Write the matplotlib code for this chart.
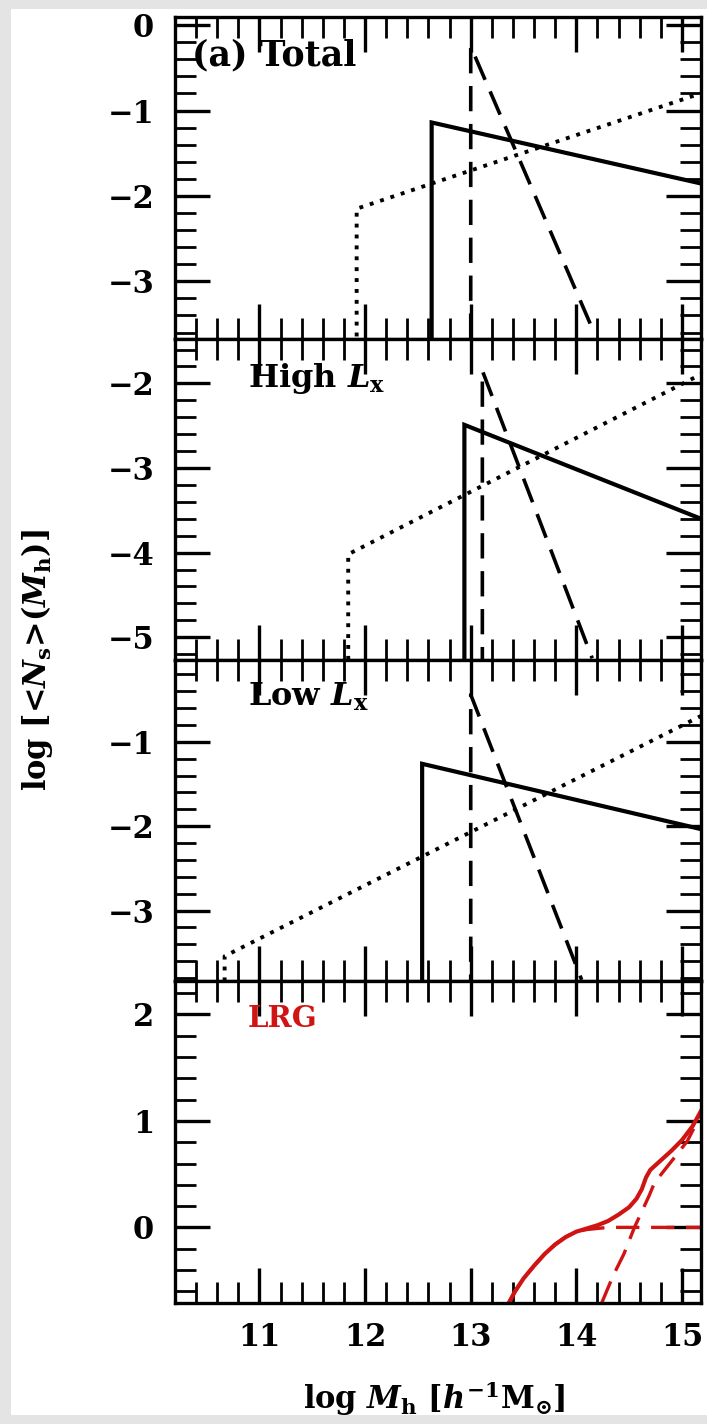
import matplotlib
matplotlib.use("Agg")
import matplotlib.pyplot as plt
from matplotlib.patches import Rectangle
from matplotlib.ticker import MultipleLocator

plt.rcParams['font.family'] = ['DejaVu Serif']
plt.rcParams['font.weight'] = 'bold'
plt.rcParams['mathtext.fontset'] = 'custom'
plt.rcParams['mathtext.rm'] = 'DejaVu Serif:bold'
plt.rcParams['mathtext.it'] = 'DejaVu Serif:bold:italic'
plt.rcParams['mathtext.bf'] = 'DejaVu Serif:bold'

# log M_h values and log <N> for each panel (steps drop below the axis)
tot_solid_x = [12.63, 12.63, 15.2]
tot_solid_y = [-9.0, -1.14, -1.86]
tot_dash_x = [13.0, 13.0, 14.15]
tot_dash_y = [-9.0, -0.25, -3.55]
tot_dot_x = [11.92, 11.92, 15.2]
tot_dot_y = [-9.0, -2.15, -0.79]

hi_solid_x = [12.94, 12.94, 15.2]
hi_solid_y = [-9.0, -2.49, -3.61]
hi_dash_x = [13.11, 13.11, 14.15]
hi_dash_y = [-9.0, -1.85, -5.25]
hi_dot_x = [11.84, 11.84, 15.2]
hi_dot_y = [-9.0, -4.02, -1.88]

lo_solid_x = [12.54, 12.54, 15.2]
lo_solid_y = [-9.0, -1.26, -2.04]
lo_dash_x = [13.0, 13.0, 14.05]
lo_dash_y = [-9.0, -0.44, -3.82]
lo_dot_x = [10.67, 10.67, 15.2]
lo_dot_y = [-9.0, -3.54, -0.68]

# LRG: total, central and satellite terms
lrg_x = [13.36, 13.42, 13.5, 13.6, 13.7, 13.8, 13.9, 14.0, 14.1, 14.2, 14.3,
         14.4, 14.5, 14.57, 14.62, 14.66, 14.7, 14.8, 14.9, 15.0, 15.1, 15.2]
lrg_y = [-0.71, -0.60, -0.48, -0.36, -0.25, -0.16, -0.09, -0.04, -0.01, 0.02,
         0.06, 0.12, 0.19, 0.27, 0.36, 0.47, 0.54, 0.63, 0.72, 0.82, 0.95, 1.13]
cen_x = [13.36, 13.42, 13.5, 13.6, 13.7, 13.8, 13.9, 14.0, 14.1, 14.2, 14.3, 15.2]
cen_y = [-0.71, -0.60, -0.48, -0.36, -0.25, -0.16, -0.09, -0.04, -0.02, -0.01, 0.0, 0.0]
sat_x = [14.24, 14.35, 14.45, 14.55, 14.62, 14.69, 14.74, 14.9, 15.05, 15.2]
sat_y = [-0.71, -0.45, -0.25, 0.0, 0.15, 0.30, 0.42, 0.62, 0.81, 1.10]

ylims = [(-3.67, 0.094), (-5.27, -1.47), (-3.84, -0.03), (-0.71, 2.31)]
labels = ['(a) Total', r'High $L_{\rm x}$', r'Low $L_{\rm x}$', 'LRG']
label_y = [0.88, 0.875, 0.885, 0.885]

red = '#d01414'
dash = (0, (7, 3.5))
dot = (0, (1.0, 1.8))

fig, axes = plt.subplots(4, 1, sharex=True, figsize=(7.07, 14.24), dpi=100)
fig.patch.set_facecolor('#e4e4e4')
fig.patches.append(Rectangle((11 / 707, 1 - 1415 / 1424), 1 - 11 / 707, 1406 / 1424,
                             transform=fig.transFigure, facecolor='white',
                             edgecolor='none', zorder=-10))
fig.subplots_adjust(left=0.2475, right=0.9915, top=0.988, bottom=0.085, hspace=0)

panels = [
    (tot_solid_x, tot_solid_y, tot_dash_x, tot_dash_y, tot_dot_x, tot_dot_y),
    (hi_solid_x, hi_solid_y, hi_dash_x, hi_dash_y, hi_dot_x, hi_dot_y),
    (lo_solid_x, lo_solid_y, lo_dash_x, lo_dash_y, lo_dot_x, lo_dot_y),
]

for i, ax in enumerate(axes):
    if i < 3:
        sx, sy, dx, dy, px, py = panels[i]
        ax.plot(sx, sy, color='k', lw=3.0, solid_joinstyle='miter')
        ax.plot(dx, dy, color='k', lw=2.6, linestyle=dash)
        ax.plot(px, py, color='k', lw=2.8, linestyle=dot)
        ax.text(0.032 if i == 0 else 0.139, label_y[i], labels[i],
                transform=ax.transAxes, fontsize=25 if i == 0 else 23,
                va='center', ha='left')
    else:
        ax.plot(lrg_x, lrg_y, color=red, lw=3.0)
        ax.plot(cen_x, cen_y, color=red, lw=2.4, linestyle=dash)
        ax.plot(sat_x, sat_y, color=red, lw=2.4, linestyle=dash)
        ax.text(0.139, label_y[i], labels[i], transform=ax.transAxes,
                fontsize=21, va='center', ha='left', color=red)

    ax.set_facecolor('white')
    ax.set_xlim(10.2, 15.18)
    ax.set_ylim(*ylims[i])
    ax.xaxis.set_major_locator(MultipleLocator(1))
    ax.xaxis.set_minor_locator(MultipleLocator(0.2))
    ax.yaxis.set_major_locator(MultipleLocator(1))
    ax.yaxis.set_minor_locator(MultipleLocator(0.2))
    ax.tick_params(which='both', direction='in', top=True, right=True,
                   labelsize=22)
    ax.tick_params(which='major', length=25, width=2.4)
    ax.tick_params(which='minor', length=15, width=2.0)
    ax.tick_params(axis='y', pad=15)
    ax.tick_params(axis='x', pad=14)
    for s in ax.spines.values():
        s.set_linewidth(2.4)
    ax.yaxis.set_major_formatter(matplotlib.ticker.FuncFormatter(
        lambda v, p: '%d' % round(v) if round(v) >= 0 else '\u2212%d' % abs(round(v))))

fig.text(0.052, 0.5365, r'log [<$N_{\rm s}$>($M_{\rm h}$)]', rotation=90,
         fontsize=22, ha='center', va='center')
fig.text(0.615, 1 - 1398 / 1424, r'log $M_{\rm h}$ [$h^{-1}{\rm M}_{\odot}$]',
         fontsize=22, ha='center', va='center')

fig.savefig('out.png', dpi=100, facecolor=fig.get_facecolor())
